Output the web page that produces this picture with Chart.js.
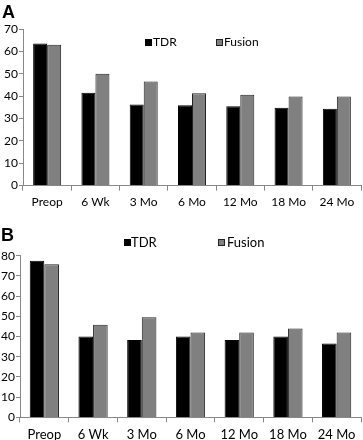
<!DOCTYPE html>
<html>
<head>
<meta charset="utf-8">
<script src="https://cdn.jsdelivr.net/npm/chart.js@4.4.1/dist/chart.umd.min.js"></script>
<style>
  html, body { margin:0; padding:0; background:#fff; width:363px; height:440px; overflow:hidden; }
  .wrap { position:absolute; left:0; width:363px; }
  canvas { display:block; }
  .letter { position:absolute; font-family:"Liberation Sans", Arial, sans-serif; font-weight:bold; font-size:18px; color:#000; line-height:1; }
  .lg { position:absolute; font-family:Lato, "Noto Sans", sans-serif; color:#000; line-height:1; white-space:nowrap; }
  .sq { position:absolute; width:7px; height:7px; box-sizing:border-box; }
  .sq.tdr { background:#000; }
  .sq.fus { background:#808080; border:1px solid #222; }
</style>
</head>
<body>
<div class="wrap" style="top:0;height:213px;"><canvas id="chartA" width="363" height="213"></canvas></div>
<div class="wrap" style="top:215px;height:233px;"><canvas id="chartB" width="363" height="233"></canvas></div>

<div class="letter" style="left:2px;top:3px;">A</div>
<div class="letter" style="left:1px;top:226px;">B</div>

<div class="sq tdr" style="left:145px;top:39px;"></div>
<div class="lg" style="left:153px;top:36px;font-size:12px;">TDR</div>
<div class="sq fus" style="left:216px;top:39px;"></div>
<div class="lg" style="left:224px;top:36px;font-size:12px;">Fusion</div>

<div class="sq tdr" style="left:124px;top:239px;"></div>
<div class="lg" style="left:131px;top:236px;font-size:13px;">TDR</div>
<div class="sq fus" style="left:218px;top:239px;"></div>
<div class="lg" style="left:227px;top:236px;font-size:13px;">Fusion</div>

<script>
const categories = ["Preop", "6 Wk", "3 Mo", "6 Mo", "12 Mo", "18 Mo", "24 Mo"];
const tdrA    = [63.5, 41.5, 36.3, 35.9, 35.5, 34.8, 34.4];
const fusionA = [63.0, 50.0, 46.5, 41.3, 40.6, 39.8, 39.8];
const tdrB    = [77.5, 40.0, 38.3, 40.0, 38.3, 40.0, 36.5];
const fusionB = [75.8, 45.8, 49.6, 42.0, 42.0, 44.0, 42.0];
const seriesNames = ["TDR", "Fusion"];

const axisColor = "#888";

function makeChart(id, tdr, fus, cfg) {
  return new Chart(document.getElementById(id), {
    type: "bar",
    data: {
      labels: categories,
      datasets: [
        { label: seriesNames[0], data: tdr, backgroundColor: "#000", borderColor: "#000", borderWidth: 1,
          barPercentage: 1, categoryPercentage: cfg.catPct },
        { label: seriesNames[1], data: fus, backgroundColor: "#808080", borderColor: "#222", borderWidth: 1,
          barPercentage: 1, categoryPercentage: cfg.catPct }
      ]
    },
    options: {
      responsive: false,
      animation: false,
      devicePixelRatio: 1,
      layout: { padding: { top: cfg.top, right: 2, bottom: 0, left: 0 } },
      plugins: { legend: { display: false }, tooltip: { enabled: false } },
      scales: {
        x: {
          grid: { drawOnChartArea: false, drawTicks: true, tickLength: 5, color: axisColor, offset: true },
          border: { display: true, color: axisColor, width: 1 },
          ticks: { color: "#000", padding: cfg.xPad, font: { family: "Lato", size: cfg.fs }, maxRotation: 0, autoSkip: false }
        },
        y: {
          min: 0, max: cfg.max,
          grid: { drawOnChartArea: false, drawTicks: true, tickLength: 4, color: axisColor },
          border: { display: true, color: axisColor, width: 1 },
          ticks: { stepSize: 10, color: "#000", padding: 1, font: { family: "Lato", size: 12 } },
          afterFit: (s) => { s.width = cfg.yw; }
        }
      }
    }
  });
}

makeChart("chartA", tdrA, fusionA, { top: 29, max: 70, yw: 23, fs: 12, xPad: 4, catPct: 0.58 });
makeChart("chartB", tdrB, fusionB, { top: 40.7, max: 80, yw: 20, fs: 13, xPad: 5, catPct: 0.6 });
</script>
</body>
</html>
